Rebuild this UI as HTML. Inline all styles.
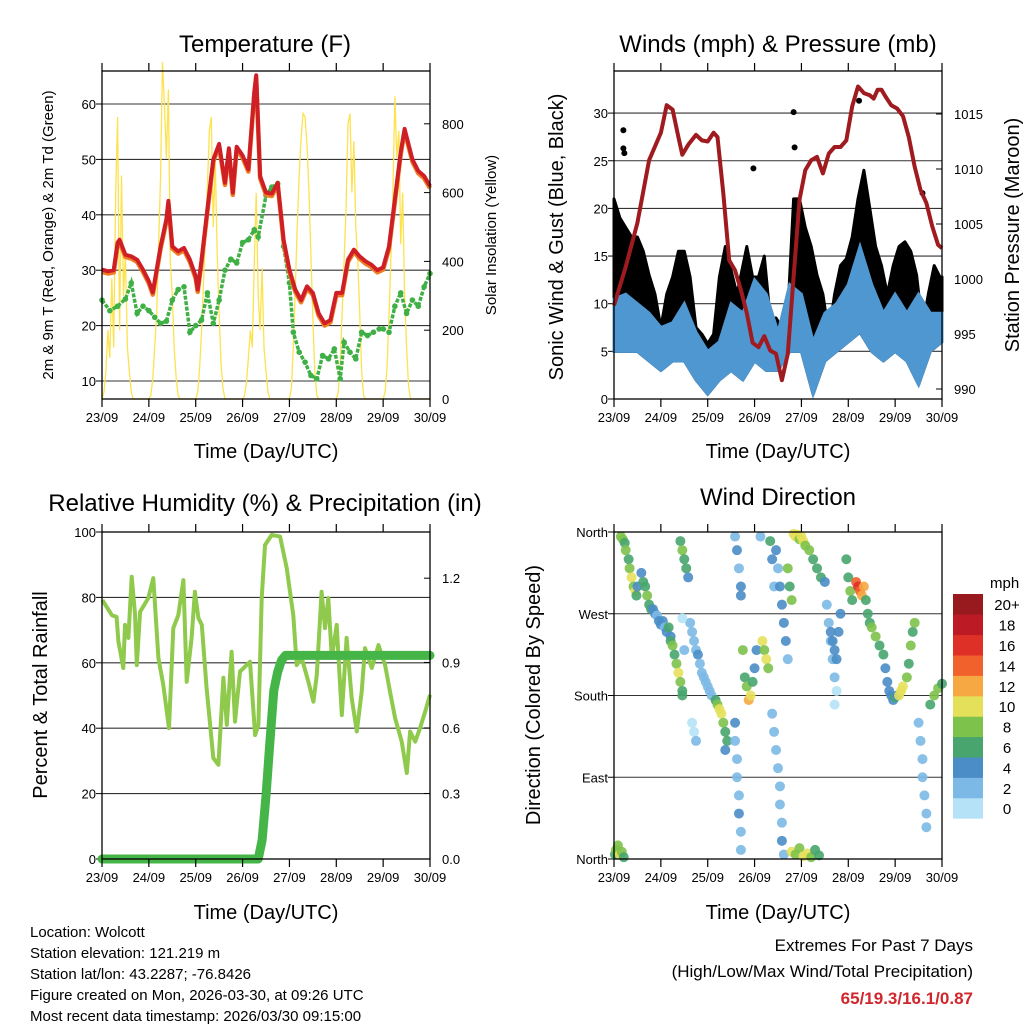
<!DOCTYPE html>
<html><head><meta charset="utf-8">
<style>
html,body{margin:0;padding:0;background:#fff;}
svg{display:block;font-family:"Liberation Sans",Arial,sans-serif;}
</style></head>
<body>
<svg id="chart" width="1024" height="1024" viewBox="0 0 1024 1024" xmlns="http://www.w3.org/2000/svg">
<rect width="1024" height="1024" fill="#fff"/>
<g id="g1"></g>
<g id="g2"></g>
<g id="g3"></g>
<g id="g4"></g>
<g id="gl"></g>

<text x="265" y="52" font-size="24" text-anchor="middle">Temperature (F)</text>
<text x="778" y="52" font-size="24" text-anchor="middle">Winds (mph) &amp; Pressure (mb)</text>
<text x="265" y="511" font-size="24" text-anchor="middle">Relative Humidity (%) &amp; Precipitation (in)</text>
<text x="778" y="505" font-size="24" text-anchor="middle">Wind Direction</text>

<text x="266" y="458" font-size="20" text-anchor="middle">Time (Day/UTC)</text>
<text x="778" y="458" font-size="20" text-anchor="middle">Time (Day/UTC)</text>
<text x="266" y="919" font-size="20" text-anchor="middle">Time (Day/UTC)</text>
<text x="778" y="919" font-size="20" text-anchor="middle">Time (Day/UTC)</text>

<text transform="translate(53,235) rotate(-90)" font-size="15" text-anchor="middle">2m &amp; 9m T (Red, Orange) &amp; 2m Td (Green)</text>
<text transform="translate(496,235) rotate(-90)" font-size="15" text-anchor="middle">Solar Insolation (Yellow)</text>
<text transform="translate(563,237) rotate(-90)" font-size="20" text-anchor="middle">Sonic Wind &amp; Gust (Blue, Black)</text>
<text transform="translate(1019,235) rotate(-90)" font-size="20" text-anchor="middle">Station Pressure (Maroon)</text>
<text transform="translate(47,695) rotate(-90)" font-size="20" text-anchor="middle">Percent &amp; Total Rainfall</text>
<text transform="translate(540,695) rotate(-90)" font-size="20" text-anchor="middle">Direction (Colored By Speed)</text>

<g font-size="15">
<text x="30" y="937">Location: Wolcott</text>
<text x="30" y="958">Station elevation: 121.219 m</text>
<text x="30" y="979">Station lat/lon: 43.2287; -76.8426</text>
<text x="30" y="1000">Figure created on Mon, 2026-03-30, at 09:26 UTC</text>
<text x="30" y="1021">Most recent data timestamp: 2026/03/30 09:15:00</text>
</g>
<text x="973" y="951" font-size="17" text-anchor="end">Extremes For Past 7 Days</text>
<text x="973" y="977" font-size="17" text-anchor="end">(High/Low/Max Wind/Total Precipitation)</text>
<text x="973" y="1004" font-size="17" font-weight="bold" fill="#d0262c" text-anchor="end">65/19.3/16.1/0.87</text>
</svg>
<script>
// ---------- DATA ----------
const dayLabels = ["23/09","24/09","25/09","26/09","27/09","28/09","29/09","30/09"];
const tempHours = [0,3,6,8,9,12,15,18,21,24,26,30,33,34,36,39,42,45,48,49,51,54,57,60,63,65,67,69,72,75,78,79,81,84,87,90,93,96,99,102,105,108,111,114,117,120,123,126,129,132,135,138,141,144,147,150,153,155,159,162,165,168];
const tempVals  = [30.1,29.8,30,35,35.5,32.8,32.5,31.9,30.1,28,26,34.3,39.2,42.5,34.3,33.4,34,31.9,28.9,26.5,31.9,41,50,52.8,45.8,52,44,52.3,50.7,48.2,62.2,65.2,47,44,43.8,45.8,35.5,30.1,26.5,24.6,27.1,25.9,22.2,20.4,21,25.9,25.9,31.9,33.7,32.5,31.6,31,30,30.5,34.3,42.8,51.3,55.5,50,47.9,47,45.2];
const dewHours = [0,4,8,12,15,18,21,24,27,30,33,36,39,42,45,48,51,54,57,60,63,66,69,72,75,78,80,84,87,90,93,96,98,101,104,107,110,113,116,119,122,124,127,130,133,136,139,142,144,147,150,153,156,159,162,165,168];
const dewVals  = [24.6,22.7,23.5,24.8,27.7,22.2,23.5,22.7,21.5,20.4,20.8,24.6,26.5,27,18.8,20,21,25.9,20.4,24.6,30,32,31.3,35,35.5,37.3,36,43.5,45,45.6,34.3,27.7,18.8,15.2,13.4,11,10.4,14.6,14,15.8,10.4,17,15.2,14,18.8,18.2,18.8,19.4,19.4,18.8,23.5,25.9,22.2,24.6,23.5,27,29.4];
const solarVals = [
 0,20,80,200,120,350,150,600,820,200,650,300,420,150,80,20,0,0,0,0,0,0,0,0,
 0,10,60,150,250,450,650,980,850,700,900,400,300,150,60,10,0,0,0,0,0,0,0,0,
 0,20,90,200,340,480,620,780,820,500,700,420,250,100,30,0,0,0,0,0,0,0,0,0,
 0,10,50,120,200,150,400,600,300,200,380,150,80,20,0,0,0,0,0,0,0,0,0,0,
 0,30,150,320,500,650,760,830,820,740,600,420,230,80,10,0,0,0,0,0,0,0,0,0,
 0,20,100,250,400,550,800,830,600,750,500,400,250,80,10,0,0,0,0,0,0,0,0,0,
 0,20,90,240,420,600,880,700,780,450,600,300,150,40,0,0,0,0,0,0,0,0,0,0,0];
const presHours = [0,6,12,18,24,27,30,33,35,38,42,45,48,51,53,56,59,62,65,68,71,74,77,80,83,86,89,92,95,98,101,104,107,110,113,116,119,122,125,128,131,133,135,137,139,142,145,148,151,154,157,160,163,166,168];
const presVals  = [997.6,1001.1,1005.1,1010.8,1013.3,1015.8,1015.4,1012.9,1011.3,1012.2,1013.1,1012.6,1012.5,1013.3,1012.9,1007.8,1001.7,1000.8,999,996.9,994.2,993.8,994.8,993.5,993.2,990.8,993.2,1000.2,1007.2,1009.9,1010.8,1011.1,1009.6,1011.4,1012,1012,1012.6,1015.7,1017.5,1016.9,1016.7,1016.4,1017.2,1017.2,1016.6,1015.8,1015.5,1014.8,1012.9,1010.2,1008.1,1006.9,1004.8,1003.1,1002.8];
const windHours = [0,6,12,18,24,30,36,42,48,54,60,66,72,78,84,90,96,102,108,114,120,126,132,138,144,150,156,162,168];
const windHi = [10.5,11,10,9,7.5,8,10,7,5,6,10,9,12.5,11,7,12,11,6,9,10,12,16,12,9,11,9,11,9,9];
const windLo = [5,5,5,4,3,4,4,2,0.5,2,3,2,4,3,3,5,5,0.5,4,5,6,7,5,4,5,4,1.5,5,6];
const gustHours = [0,3,6,9,12,15,18,21,24,27,30,33,36,39,42,45,48,51,54,57,60,63,66,68,71,74,77,80,83,86,89,92,95,98,101,104,107,110,113,116,119,122,125,128,131,134,137,140,143,146,149,152,155,158,161,164,167,168];
const gustHi = [21,19,18,17,17,15.5,13,11,7.5,11,12.8,15.5,15.5,12.8,7.5,6.8,5.8,6.8,12.8,16,13.5,11,14,16,12.8,12.8,15,8.5,8.5,7.5,9,21,21,18,16,13,11,6.8,11,14,14.7,17,21,24,20,16,14,11,14,16,16.5,15.5,13,7.5,11,14,12.8,12.8];
const gustOutHours = [4.8,4.8,5.3,71.4,92,92.5,125.5,158];
const gustOutVals = [28.2,26.3,25.8,24.2,30.1,26.4,31.3,21.6];
const rhHours = [0.2,5,7.5,8.4,10.9,11.8,13.5,15.2,16.9,17.8,19.5,23.7,26.3,28.9,31.4,34.3,36.5,39.1,41.7,43.4,45.9,47.6,49.4,51.1,53.6,57,59.6,62.2,63.9,66.4,68.1,70.7,75.8,78.4,80.1,81.8,83.5,86.9,91.2,94.6,96.3,98,99.7,102.3,105.7,108.3,110,112.5,114.2,115.9,117.7,120.2,122.8,125.3,127.9,130.5,133,134.7,138.2,141.6,145,147.5,150.1,153.5,156.1,157.8,160.4,162.9,165.5,168];
const rhVals = [79.2,74.6,74,66.5,58.4,71.6,67.6,86.3,75,59.3,75.6,79.8,85.9,61.5,53.2,40,70.6,74.6,85.3,54.2,67.6,81.7,73.7,71.6,52.3,30.9,28.8,55.4,41,63.4,42,57.3,60.3,37.9,41,79.8,96,99.1,98.6,89,81.7,74.6,59.3,61.5,54.2,48.1,56.3,81.7,70.6,79.8,61.5,71.6,44,67.6,49.2,39,51.2,64.5,58.4,65.4,59.3,51.2,43.1,35.9,26.3,39,35.9,40,45,50.2];
const precipHours = [0,80,82,84,86,88,90,92,94,168];
const precipVals = [0,0,0.08,0.27,0.5,0.72,0.8,0.85,0.87,0.87];
const dirHours = [3.5,4.5,5.5,6,7.5,8,9,10,11,11.5,12,14,15,16,17,18,19,20,21,22,23,24,25,26,27,28,29,29,30,31,32,33,34,35,35,34,35,36,37,38,39,40,41,42,43,44,45,46,47,48,49,50,40,41,42,52,53,54,55,56,57,58,57,62,62,63,63,64,64,65,65,62,63,64,65,65,66,67,68,69,70,71,72,73,76,77,78,79,80,81,82,81,82,83,84,85,85,86,86,87,83,84,85,86,87,88,89,89,90,91,92,93,94,95,96,97,98,100,102,104,106,108,109,110,111,112,113,114,113,111,112,113,114,115,116,119,120,121,122,124,125,126,127,128,129,130,131,132,134,136,138,139,140,141,142,143,144,145,146,147,148,150,151,152,153,154,156,157,158,158,159,160,160,162,164,166,168,0.5,1,2,3,4,5,91,93,95,97,99,101,103,105,35,36,75];
const dirDeg = [355,352,348,340,330,320,310,300,295,290,300,315,305,300,290,280,275,275,270,268,262,258,262,255,250,255,245,240,235,225,215,205,195,185,180,350,340,330,320,310,260,250,240,230,225,215,205,200,195,190,185,180,150,140,130,175,170,165,160,150,140,130,120,150,130,110,90,70,50,30,10,355,340,320,300,290,230,200,190,175,180,195,210,230,240,230,220,210,350,330,300,160,140,120,100,80,60,40,20,5,340,320,300,280,260,240,220,320,300,285,358,355,357,352,355,350,345,340,330,320,310,305,280,260,240,220,200,185,170,250,240,230,220,250,270,330,310,295,285,305,300,295,290,300,285,270,260,255,245,235,225,210,195,185,180,175,178,180,180,185,190,200,215,235,250,260,150,130,110,90,70,50,35,170,180,188,193,5,10,15,5,8,2,8,5,12,3,6,2,10,4,265,230,355];
const dirSpd = [9,8,7,8,7,8,10,9,11,7,4,5,7,6,8,6,7,4,4,3,4,4,4,3,4,6,4,6,8,7,8,10,8,7,6,6,8,7,6,4,2,3,3,2,4,3,3,2,3,2,3,2,1,1,2,6,8,10,10,8,6,6,5,4,3,3,2,3,4,2,3,3,4,3,4,4,8,6,8,13,10,7,5,4,10,9,10,8,6,4,3,3,2,3,2,3,2,3,4,2,4,3,4,4,4,4,2,8,7,8,10,11,10,9,11,10,8,8,7,6,6,4,2,2,3,2,2,1,1,4,4,4,4,4,4,6,6,8,7,14,16,15,13,12,6,6,7,8,8,7,6,4,4,4,4,4,6,5,10,10,11,8,7,8,6,8,3,2,2,2,2,2,2,6,8,8,7,7,9,8,10,9,7,10,9,8,10,11,9,7,6,1,2,3];
const speedBins = ["0","2","4","6","8","10","12","14","16","18","20+"];

// ---------- HELPERS ----------
const NS = "http://www.w3.org/2000/svg";
function mk(tag, attrs, parent){const e=document.createElementNS(NS,tag);for(const k in attrs)e.setAttribute(k,attrs[k]);parent.appendChild(e);return e;}
function txt(parent,x,y,s,size,anchor){const t=mk("text",{x:x,y:y,"font-size":size,"text-anchor":anchor},parent);t.textContent=s;return t;}
function xs(x0,x1){return h=>x0+h/168*(x1-x0);}
function pathD(hs,vs,fx,fy){return hs.map((h,i)=>(i?"L":"M")+fx(h).toFixed(1)+","+fy(vs[i]).toFixed(1)).join("");}
const colors=["#b5e2f7","#7cb9e6","#4a8dc7","#47a56d","#7dc24b","#e5e05a","#f6a843","#f1612b","#de3027","#bc1b25","#991a1e"];
function spdColor(s){let i=Math.floor(s/2);if(i>10)i=10;if(i<0)i=0;return colors[i];}

function frame(g,x0,x1,y0,y1,name){
  const fx=xs(x0,x1);
  for(let d=0;d<8;d++){
    const x=fx(d*24);
    const tb=mk("line",{x1:x,y1:y1,x2:x,y2:y1+8,stroke:"#000","stroke-width":1.2},g);
    
    
    const tt=mk("line",{x1:x,y1:y0,x2:x,y2:y0-8,stroke:"#000","stroke-width":1.2},g);
    
    
    const t=txt(g,x,y1+23,dayLabels[d],13,"middle");
    
    
  }
  const r=mk("rect",{x:x0,y:y0,width:x1-x0,height:y1-y0,fill:"none",stroke:"#000","stroke-width":1.3},g);
  
  
}
function hgrid(g,x0,x1,y){const l=mk("line",{x1:x0,y1:y,x2:x1,y2:y,stroke:"#333","stroke-width":1.1},g);
  
  }
function ltick(g,x,y,s,anchor,out){const l=mk("line",{x1:x,y1:y,x2:x+out,y2:y,stroke:"#000","stroke-width":1},g);
  
  
  const t=txt(g,anchor==="end"?x-6:x+12,y+5,s,13,anchor);
  
  }

// ---------- PANEL 1 ----------
(function(){
  const g=document.getElementById("g1");
  const x0=102,x1=430,y0=71,y1=399, fx=xs(x0,x1);
  const fy=v=>381-(v-10)*5.54, fs=v=>399-v*0.344;
  [10,20,30,40,50,60].forEach(v=>{hgrid(g,x0,x1,fy(v));ltick(g,x0,fy(v),String(v),"end",-6);});
  [0,200,400,600,800].forEach(v=>{ltick(g,x1,fs(v),String(v),"start",-6);});
  const sh=solarVals.map((v,i)=>i);
  const sp=mk("path",{d:pathD(sh,solarVals,fx,fs),fill:"none",stroke:"#fde24f","stroke-width":1.3},g);
  
  
  dewHours.forEach((h,i)=>{const c=mk("circle",{cx:fx(h),cy:fy(dewVals[i]),r:2.8,fill:"#3fb045"},g);
    
    });
  const dl=mk("path",{d:pathD(dewHours,dewVals,fx,fy),fill:"none",stroke:"#3fb045","stroke-width":3.5,"stroke-dasharray":"4 1.5"},g);
  
  
  const ol=mk("path",{d:pathD(tempHours,tempVals.map(v=>v-0.4),fx,fy),fill:"none",stroke:"#f07d22","stroke-width":4.5,"stroke-linejoin":"round"},g);
  
  
  const tl=mk("path",{d:pathD(tempHours,tempVals,fx,fy),fill:"none",stroke:"#cf1f26","stroke-width":4,"stroke-linejoin":"round"},g);
  
  
  frame(g,x0,x1,y0,y1,"temperature");
})();

// ---------- PANEL 2 ----------
(function(){
  const g=document.getElementById("g2");
  const x0=614,x1=942,y0=71,y1=399, fx=xs(x0,x1);
  const fy=v=>399-v*9.53, fp=p=>389-(p-990)*11;
  [0,5,10,15,20,25,30].forEach(v=>{if(v>0)hgrid(g,x0,x1,fy(v));ltick(g,x0,fy(v),String(v),"end",-6);});
  [990,995,1000,1005,1010,1015].forEach(v=>ltick(g,x1,fp(v),String(v),"start",-6));
  let d=pathD(gustHours,gustHi,fx,fy);
  for(let i=windHours.length-1;i>=0;i--)d+="L"+fx(windHours[i]).toFixed(1)+","+fy(windLo[i]).toFixed(1);
  const gp=mk("path",{d:d+"Z",fill:"#000",stroke:"#000","stroke-width":3,"stroke-linejoin":"round"},g);
  
  
  gustOutHours.forEach((h,i)=>{const c=mk("circle",{cx:fx(h),cy:fy(gustOutVals[i]),r:3,fill:"#000"},g);
    
    });
  let wd=pathD(windHours,windHi,fx,fy);
  for(let i=windHours.length-1;i>=0;i--)wd+="L"+fx(windHours[i]).toFixed(1)+","+fy(windLo[i]).toFixed(1);
  const wp=mk("path",{d:wd+"Z",fill:"#4f97d1",stroke:"#4f97d1","stroke-width":3},g);
  
  
  const pl=mk("path",{d:pathD(presHours,presVals,fx,fp),fill:"none",stroke:"#a01b1f","stroke-width":4,"stroke-linejoin":"round"},g);
  
  
  frame(g,x0,x1,y0,y1,"winds");
})();

// ---------- PANEL 3 ----------
(function(){
  const g=document.getElementById("g3");
  const x0=102,x1=430,y0=532,y1=859, fx=xs(x0,x1);
  const fy=v=>859-v*3.27, fp=v=>859-v*234;
  [0,20,40,60,80,100].forEach(v=>{if(v>0&&v<100)hgrid(g,x0,x1,fy(v));ltick(g,x0,fy(v),String(v),"end",-6);});
  const pticks=[0,0.28,0.56,0.84,1.2], plabels=["0.0","0.3","0.6","0.9","1.2"];
  pticks.forEach((v,i)=>ltick(g,x1,fp(v),plabels[i],"start",-6));
  const rl=mk("path",{d:pathD(rhHours,rhVals,fx,fy),fill:"none",stroke:"#8fca4c","stroke-width":4,"stroke-linejoin":"round"},g);
  
  
  const pl=mk("path",{d:pathD(precipHours,precipVals,fx,fp),fill:"none",stroke:"#45b548","stroke-width":9,"stroke-linejoin":"round","stroke-linecap":"round"},g);
  
  
  frame(g,x0,x1,y0,y1,"humidity");
})();

// ---------- PANEL 4 ----------
(function(){
  const g=document.getElementById("g4");
  const x0=614,x1=942,y0=532,y1=859, fx=xs(x0,x1);
  const fy=d=>859-d*327/360;
  const dl=["North","East","South","West","North"];
  [0,90,180,270,360].forEach((v,i)=>{hgrid(g,x0,x1,fy(v));ltick(g,x0,fy(v),dl[i],"end",-6);});
  dirHours.forEach((h,i)=>{const c=mk("circle",{cx:fx(h),cy:fy(dirDeg[i]),r:5,fill:spdColor(dirSpd[i]),"fill-opacity":0.9},g);
    
    });
  frame(g,x0,x1,y0,y1,"direction");
})();

// ---------- COLORBAR ----------
(function(){
  const g=document.getElementById("gl");
  const t=txt(g,990,588,"mph",15,"start");
  
  
  const top=594,bh=20.4;
  for(let i=0;i<11;i++){
    const y=top+(10-i)*bh;
    const r=mk("rect",{x:953,y:y,width:30,height:bh+0.3,fill:colors[i]},g);
    
    
    const l=txt(g,1007,y+bh/2+6,speedBins[i],15,"middle");
    
    
  }
})();
</script>
</body></html>
